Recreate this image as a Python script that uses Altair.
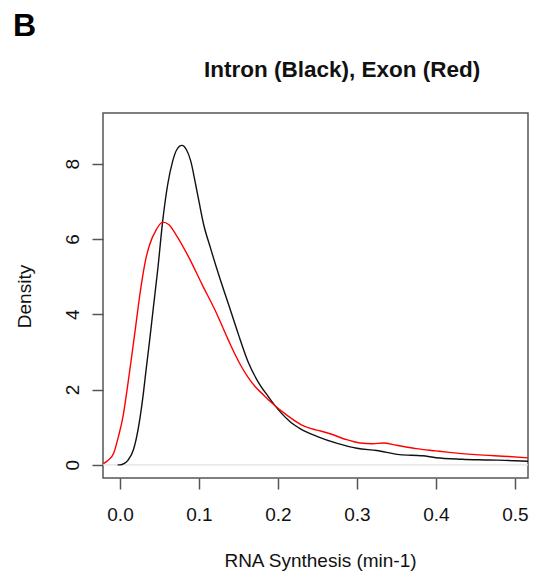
import altair as alt
import pandas as pd

# Intron (black) density curve
intron_x = [-0.003, 0.0, 0.005, 0.01, 0.017, 0.023, 0.029, 0.0333, 0.0375, 0.0417, 0.048, 0.054,
            0.0604, 0.0667, 0.072, 0.0783, 0.084, 0.0896, 0.0958, 0.1, 0.106, 0.1146, 0.125,
            0.1375, 0.15, 0.1625, 0.175, 0.1875, 0.196, 0.204, 0.215, 0.229, 0.25, 0.275, 0.3,
            0.325, 0.354, 0.383, 0.4, 0.433, 0.467, 0.5, 0.52]
intron_d = [0.0, 0.0, 0.03, 0.12, 0.4, 0.95, 1.8, 2.57, 3.3, 4.08, 5.23, 6.47,
            7.45, 8.07, 8.38, 8.49, 8.38, 8.07, 7.45, 7.0, 6.38, 5.76, 5.05,
            4.26, 3.46, 2.72, 2.2, 1.82, 1.58, 1.38, 1.15, 0.95, 0.75, 0.57, 0.44,
            0.38, 0.27, 0.24, 0.19, 0.15, 0.13, 0.11, 0.09]

# Exon (red) density curve
exon_x = [-0.021, -0.015, -0.008, -0.002, 0.004, 0.009, 0.0146, 0.02, 0.025, 0.029, 0.033,
          0.0375, 0.046, 0.054, 0.062, 0.0708, 0.0875, 0.104, 0.121, 0.1375, 0.146, 0.154,
          0.162, 0.171, 0.182, 0.192, 0.2125, 0.229, 0.242, 0.254, 0.267, 0.285, 0.304, 0.32,
          0.333, 0.35, 0.375, 0.4, 0.417, 0.45, 0.492, 0.52]
exon_d = [0.03, 0.12, 0.31, 0.75, 1.3, 2.0, 2.85, 3.7, 4.5, 5.05, 5.5,
          5.85, 6.25, 6.45, 6.38, 6.12, 5.5, 4.79, 4.08, 3.3, 2.92, 2.6,
          2.33, 2.08, 1.85, 1.65, 1.3, 1.07, 0.96, 0.9, 0.82, 0.68, 0.58, 0.56,
          0.58, 0.52, 0.43, 0.37, 0.33, 0.27, 0.22, 0.18]

x_ticks = [0.0, 0.1, 0.2, 0.3, 0.4, 0.5]
y_ticks = [0, 2, 4, 6, 8]

FONT = "Liberation Sans"
FRAME = "#555555"

df = pd.concat([
    pd.DataFrame({"x": intron_x, "d": intron_d, "s": "Intron"}),
    pd.DataFrame({"x": exon_x, "d": exon_d, "s": "Exon"}),
])

xscale = alt.Scale(domain=[-0.0215, 0.5165], nice=False, zero=False)
yscale = alt.Scale(domain=[-0.35, 9.35], nice=False, zero=False)

xaxis = alt.Axis(values=x_ticks, format=".1f", title="RNA Synthesis (min-1)",
                 grid=False, domain=False, tickSize=11, tickColor=FRAME, tickWidth=1.5,
                 labelFont=FONT, labelFontSize=19, labelColor="#111", labelPadding=16,
                 labelFlush=False,
                 titleFont=FONT, titleFontSize=19, titleFontWeight="normal", titleColor="#111",
                 titleBaseline="alphabetic", titleY=88, titleX=217)
yaxis = alt.Axis(values=y_ticks, format="d", title="Density",
                 grid=False, domain=False, tickSize=11, tickColor=FRAME, tickWidth=1.5,
                 labelFont=FONT, labelFontSize=19, labelColor="#111", labelPadding=10,
                 labelAngle=270, labelAlign="center", labelBaseline="bottom",
                 titleFont=FONT, titleFontSize=19, titleFontWeight="normal", titleColor="#111",
                 titleAngle=270, titleAlign="center", titleBaseline="alphabetic",
                 titleX=-73, titleY=183)

zero = alt.Chart(pd.DataFrame({"z": [0]})).mark_rule(color="#e2e2e2", strokeWidth=1.2).encode(
    y=alt.Y("z:Q", scale=yscale, axis=yaxis)
)

lines = alt.Chart(df).mark_line(strokeWidth=1.4, interpolate="monotone", clip=True).encode(
    x=alt.X("x:Q", scale=xscale, axis=xaxis),
    y=alt.Y("d:Q", scale=yscale, axis=yaxis),
    color=alt.Color("s:N", scale=alt.Scale(domain=["Intron", "Exon"], range=["#111111", "#ff0000"]),
                    legend=None),
)

one = pd.DataFrame({"t": ["Intron (Black), Exon (Red)"], "b": ["B"]})
title = alt.Chart(one).mark_text(font=FONT, fontSize=22.5, fontWeight="bold", align="left",
                                 baseline="alphabetic", color="#111").encode(
    text="t:N", x=alt.value(101), y=alt.value(-36))
letter = alt.Chart(one).mark_text(font=FONT, fontSize=32, fontWeight="bold", align="left",
                                  baseline="alphabetic", color="#000").encode(
    text="b:N", x=alt.value(-90), y=alt.value(-77))

chart = alt.layer(zero, lines, title, letter).properties(
    width=425, height=365,
    background="white",
    autosize=alt.AutoSizeParams(type="none"),
    padding={"left": 95, "top": 105, "right": 1, "bottom": 93},
).configure_view(stroke=FRAME, strokeWidth=1.5)

chart.save("out.html", embed_options={"renderer": "svg", "actions": False})
